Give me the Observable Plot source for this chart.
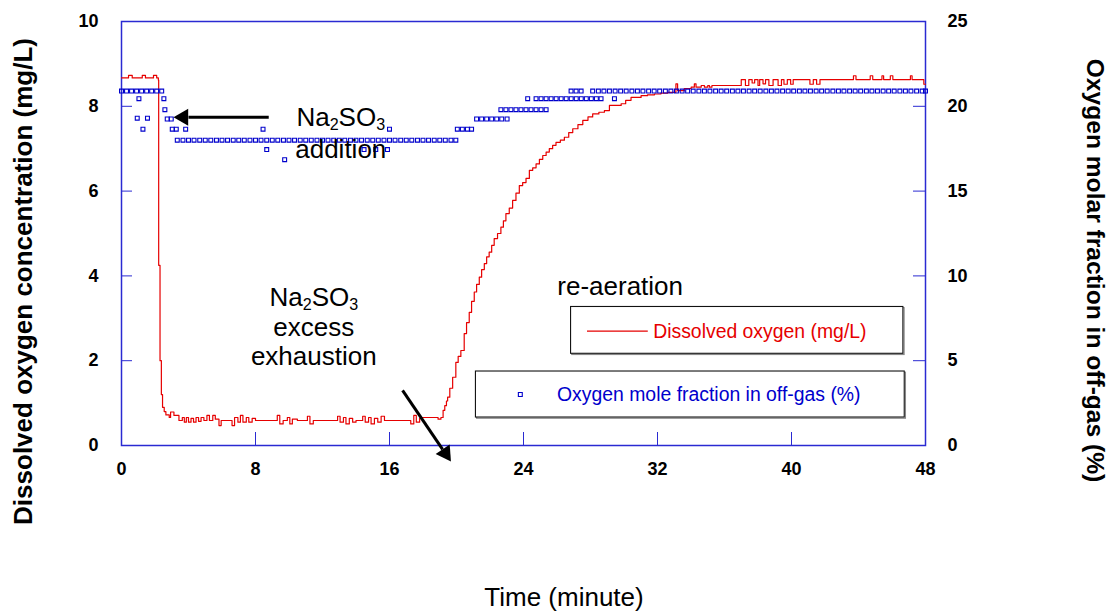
<!DOCTYPE html>
<html><head><meta charset="utf-8">
<script src="https://cdn.jsdelivr.net/npm/d3@7"></script>
<script src="https://cdn.jsdelivr.net/npm/@observablehq/plot@0.6"></script>
<style>body{margin:0;background:#fff}</style>
</head><body><div id="chart"></div>
<script>
// Dissolved oxygen (mg/L) vs time (minute)
const dissolvedOxygen = [
 [0,8.67],[0.42,8.73],[0.64,8.67],[1.24,8.73],[1.43,8.67],[1.91,8.73],[2.1,8.67],[2.2,8.62],[2.22,4.25],[2.3,2.0],
 [2.38,1.2],[2.45,0.9],[2.55,0.8],[2.65,0.72],[2.85,0.66],[2.93,0.79],[3.13,0.71],[3.43,0.59],[3.63,0.66],[3.75,0.55],
 [3.87,0.66],[4.0,0.55],[4.15,0.64],[4.3,0.55],[4.45,0.66],[4.6,0.57],[4.75,0.66],[4.92,0.59],[5.1,0.71],[5.25,0.59],
 [5.45,0.71],[5.6,0.62],[5.82,0.47],[5.95,0.59],[6.6,0.47],[6.75,0.66],[6.95,0.55],[7.1,0.71],[7.25,0.55],[7.45,0.66],
 [7.6,0.55],[7.8,0.64],[8.0,0.59],[9.3,0.71],[9.45,0.51],[9.65,0.59],[9.9,0.66],[10.05,0.51],[10.2,0.62],[10.5,0.59],
 [11.1,0.69],[11.25,0.51],[11.45,0.59],[12.9,0.69],[13.05,0.55],[13.25,0.66],[13.4,0.51],[13.6,0.64],[13.8,0.55],[14.0,0.59],
 [14.4,0.69],[14.55,0.55],[14.75,0.66],[14.9,0.51],[15.1,0.64],[15.3,0.55],[15.5,0.69],[15.7,0.59],[17.27,0.51],[17.45,0.71],
 [17.6,0.55],[17.8,0.64],[17.95,0.66],[18.9,0.62],[19.07,0.66],[19.2,0.83],[19.3,0.94],[19.4,1.05],[19.47,1.14],[19.6,1.35],
 [19.77,1.61],[19.96,1.96],[20.1,2.1],[20.26,2.24],[20.46,2.64],[20.6,2.9],[20.76,3.14],[20.9,3.4],[21.06,3.62],[21.2,3.8],
 [21.36,3.97],[21.5,4.15],[21.66,4.29],[21.8,4.45],[21.95,4.56],[22.1,4.72],[22.25,4.88],[22.45,5.0],[22.65,5.15],[22.8,5.3],
 [22.95,5.47],[23.15,5.6],[23.35,5.78],[23.55,5.95],[23.75,6.13],[23.95,6.2],[24.15,6.3],[24.35,6.49],[24.55,6.55],[24.75,6.64],
 [24.95,6.75],[25.15,6.84],[25.35,6.92],[25.54,7.0],[25.74,7.08],[25.94,7.15],[26.2,7.2],[26.44,7.27],[26.7,7.38],[26.94,7.47],
 [27.25,7.57],[27.54,7.67],[27.85,7.75],[28.13,7.82],[28.5,7.86],[28.83,7.9],[29.13,8.02],[29.83,8.06],[30.1,8.14],[30.42,8.21],
 [31.02,8.25],[31.4,8.27],[31.82,8.29],[32.2,8.31],[32.62,8.33],[33.1,8.53],[33.2,8.37],[33.6,8.42],[34.01,8.45],[34.2,8.53],
 [34.3,8.45],[34.61,8.49],[34.8,8.45],[35.0,8.49],[35.1,8.45],[35.25,8.49],[37.0,8.63],[37.25,8.49],[37.45,8.63],[37.65,8.55],
 [37.8,8.63],[38.0,8.49],[38.1,8.63],[38.3,8.53],[38.45,8.63],[38.65,8.49],[38.9,8.63],[39.2,8.49],[39.4,8.63],[39.55,8.52],
 [39.75,8.63],[39.95,8.52],[40.1,8.63],[41.1,8.52],[41.3,8.63],[41.5,8.52],[41.7,8.63],[43.7,8.72],[43.85,8.63],[44.7,8.72],
 [44.85,8.63],[45.4,8.72],[45.5,8.63],[45.9,8.72],[46.05,8.63],[47.1,8.72],[47.2,8.63],[47.9,8.52],[48,8.52]
];

// Oxygen mole fraction in off-gas (%) vs time (minute)
const offGasOxygen = [
 [0,20.9],[0.3,20.9],[0.6,20.9],[0.9,20.9],[1.2,20.9],[1.5,20.9],[1.8,20.9],[2.1,20.9],[2.4,20.9],
 [0.94,19.3],[1.04,20.45],[1.28,18.65],[1.55,19.3],
 [2.53,20.45],[2.59,19.8],[2.73,19.25],[2.97,19.25],[3.03,18.65],[3.27,18.65],[3.83,18.65],
 [3.33,18],[3.67,18],[4,18],[4.33,18],[4.67,18],[5,18],[5.33,18],[5.67,18],[6,18],[6.33,18],
 [6.67,18],[7,18],[7.33,18],[7.67,18],[8,18],[8.33,18],[8.67,18],[9,18],[9.33,18],[9.67,18],
 [10,18],[10.33,18],[10.67,18],[11,18],[11.33,18],[11.67,18],[12,18],[12.33,18],[12.67,18],[13,18],
 [13.33,18],[13.67,18],[14,18],[14.33,18],[14.67,18],[15,18],[15.33,18],[15.67,18],[16,18],[16.33,18],
 [16.67,18],[17,18],[17.33,18],[17.67,18],[18,18],[18.33,18],[18.67,18],[19,18],[19.33,18],[19.67,18],[19.96,18],
 [8.45,18.65],[8.67,17.45],[9.74,16.85],[14.48,17.45],[15.18,17.45],[15.88,17.45],[16.0,18.65],
 [20.05,18.65],[20.35,18.65],[20.65,18.65],[20.9,18.65],
 [21.2,19.25],[21.5,19.25],[21.8,19.25],[22.1,19.25],[22.4,19.25],[22.7,19.25],[23.02,19.25],
 [22.65,19.8],[22.95,19.8],[23.25,19.8],[23.55,19.8],[23.85,19.8],[24.15,19.8],[24.45,19.8],[24.75,19.8],[25.05,19.8],[25.35,19.8],
 [24.25,20.45],[24.75,20.45],[25.05,20.45],[25.35,20.45],[25.65,20.45],[25.95,20.45],[26.25,20.45],[26.55,20.45],
 [26.85,20.45],[27.15,20.45],[27.45,20.45],[27.75,20.45],[28.05,20.45],[28.35,20.45],[28.63,20.45],[29.43,20.45],
 [26.84,20.9],[27.14,20.9],[27.44,20.9],
 [28.13,20.9],[28.47,20.9],[28.8,20.9],[29.13,20.9],[29.47,20.9],[29.8,20.9],[30.13,20.9],[30.47,20.9],[30.8,20.9],[31.13,20.9],
 [31.47,20.9],[31.8,20.9],[32.13,20.9],[32.47,20.9],[32.8,20.9],[33.13,20.9],[33.47,20.9],[33.8,20.9],[34.13,20.9],[34.47,20.9],
 [34.8,20.9],[35.13,20.9],[35.47,20.9],[35.8,20.9],[36.13,20.9],[36.47,20.9],[36.8,20.9],[37.13,20.9],[37.47,20.9],[37.8,20.9],
 [38.13,20.9],[38.47,20.9],[38.8,20.9],[39.13,20.9],[39.47,20.9],[39.8,20.9],[40.13,20.9],[40.47,20.9],[40.8,20.9],[41.13,20.9],
 [41.47,20.9],[41.8,20.9],[42.13,20.9],[42.47,20.9],[42.8,20.9],[43.13,20.9],[43.47,20.9],[43.8,20.9],[44.13,20.9],[44.47,20.9],
 [44.8,20.9],[45.13,20.9],[45.47,20.9],[45.8,20.9],[46.13,20.9],[46.47,20.9],[46.8,20.9],[47.13,20.9],[47.47,20.9],[47.8,20.9],[48,20.9]
];

const xTicks = [0, 8, 16, 24, 32, 40, 48];
const doTicks = [0, 2, 4, 6, 8, 10];
const o2Ticks = [0, 5, 10, 15, 20, 25];
const doMax = 10, o2Max = 25;
const o2ToDo = v => v * doMax / o2Max;

const RED = "#e60000", BLUE = "#0000cc", AXIS = "#2a2ad2";
const FONT = "Liberation Sans, Arial, Helvetica, sans-serif";

const doData = dissolvedOxygen.map(([t, v]) => ({t, v}));
const o2Data = offGasOxygen.map(([t, v]) => ({t, v}));

const lab = (txt, o) => Plot.text([txt], {text: d => d, fontSize: 26, fill: "black", ...o});

const chart = Plot.plot({
  width: 1113, height: 611,
  marginLeft: 121, marginRight: 188, marginTop: 21, marginBottom: 166,
  style: {fontFamily: FONT, background: "white", overflow: "visible"},
  x: {domain: [0, 48]},
  y: {domain: [0, doMax]},
  marks: [
    Plot.frame({stroke: AXIS, strokeWidth: 1.5}),
    Plot.line(doData, {x: "t", y: "v", stroke: RED, strokeWidth: 1.2, curve: "step-after"}),
    Plot.dot(o2Data, {x: "t", y: d => o2ToDo(d.v), symbol: "square", r: 2.2, stroke: BLUE, fill: "none", strokeWidth: 1.1}),

    // annotation arrows
    Plot.link([0], {x1: 8.79, y1: 7.74, x2: 4.0, y2: 7.74, stroke: "black", strokeWidth: 3}),
    Plot.dot([0], {x: 3.69, y: 7.74, symbol: "triangle", r: 6.3, fill: "black", stroke: "none", rotate: -90}),
    Plot.link([0], {x1: 16.78, y1: 1.30, x2: 19.17, y2: -0.09, stroke: "black", strokeWidth: 3}),
    Plot.dot([0], {x: 19.34, y: -0.186, symbol: "triangle", r: 6.3, fill: "black", stroke: "none", rotate: 145.8}),

    // annotation texts
    lab("Na2SO3", {x: 13.09, y: 7.547, lineAnchor: "bottom"}),
    lab("addition", {x: 13.09, y: 6.77, lineAnchor: "bottom"}),
    lab("Na2SO3", {x: 11.48, y: 3.30, lineAnchor: "bottom"}),
    lab("excess", {x: 11.48, y: 2.594, lineAnchor: "bottom"}),
    lab("exhaustion", {x: 11.48, y: 1.887, lineAnchor: "bottom"}),
    lab("re-aeration", {x: 29.77, y: 3.538, lineAnchor: "bottom"}),

    // legend boxes
    Plot.rect([0], {x1: 26.84, x2: 46.68, y1: 3.267, y2: 2.163, fill: "none", stroke: "#888", strokeWidth: 1.2, dx: 1.2, dy: 1.2}),
    Plot.rect([0], {x1: 26.84, x2: 46.68, y1: 3.267, y2: 2.163, fill: "white", stroke: "#111", strokeWidth: 1.1}),
    Plot.link([0], {x1: 27.79, x2: 31.42, y1: 2.696, y2: 2.696, stroke: RED, strokeWidth: 1.3}),
    Plot.text(["Dissolved oxygen (mg/L)"], {text: d => d, x: 31.74, y: 2.524, textAnchor: "start", lineAnchor: "bottom", fontSize: 19.4, fill: RED}),
    Plot.rect([0], {x1: 21.16, x2: 46.76, y1: 1.745, y2: 0.66, fill: "none", stroke: "#888", strokeWidth: 1.2, dx: 1.2, dy: 1.2}),
    Plot.rect([0], {x1: 21.16, x2: 46.76, y1: 1.745, y2: 0.66, fill: "white", stroke: "#111", strokeWidth: 1.1}),
    Plot.dot([0], {x: 23.81, y: 1.203, symbol: "square", r: 2.2, stroke: BLUE, fill: "none", strokeWidth: 1.1}),
    Plot.text(["Oxygen mole fraction in off-gas (%)"], {text: d => d, x: 26.0, y: 1.038, textAnchor: "start", lineAnchor: "bottom", fontSize: 19.4, fill: BLUE}),

    // axes (ticks pointing inward)
    Plot.axisX({ticks: xTicks, anchor: "bottom", tickSize: 13, dy: -13, tickPadding: 17, stroke: AXIS, fill: "black", fontSize: 18, fontWeight: "bold", label: null}),
    Plot.axisY({ticks: doTicks, anchor: "left", tickSize: 11, dx: 11, tickPadding: 23, stroke: AXIS, fill: "black", fontSize: 18, fontWeight: "bold", label: null}),
    Plot.axisY(o2Ticks, {y: o2ToDo, text: d => String(d), anchor: "right", tickSize: 13, dx: -13, tickPadding: 22, stroke: AXIS, fill: "black", fontSize: 18, fontWeight: "bold", label: null}),

    // axis titles
    Plot.text(["Dissolved oxygen concentration (mg/L)"], {text: d => d, frameAnchor: "left", textAnchor: "middle", lineAnchor: "middle", dx: -98, dy: 48, rotate: -90, fontSize: 26, fontWeight: "bold", fill: "black"}),
    Plot.text(["Oxygen molar fraction in off-gas (%)"], {text: d => d, frameAnchor: "right", textAnchor: "middle", lineAnchor: "middle", dx: 169, dy: 37, rotate: 90, fontSize: 24.6, fontWeight: "bold", fill: "black"}),
    Plot.text(["Time (minute)"], {text: d => d, frameAnchor: "bottom", textAnchor: "middle", dx: 40.5, dy: 160, lineAnchor: "bottom", fontSize: 26, fill: "black"})
  ]
});

// render chemical formula subscripts
const NS = "http://www.w3.org/2000/svg";
chart.querySelectorAll("text").forEach(el => {
  if (el.textContent === "Na2SO3") {
    el.textContent = "";
    [["Na", 0], ["2", 1], ["SO", -1], ["3", 1]].forEach(([s, shift]) => {
      const ts = document.createElementNS(NS, "tspan");
      ts.textContent = s;
      if (shift === 1) { ts.setAttribute("font-size", "62%"); ts.setAttribute("dy", "4"); }
      if (shift === -1) ts.setAttribute("dy", "-4");
      el.appendChild(ts);
    });
  }
});

document.getElementById("chart").appendChild(chart);
</script>
</body></html>
